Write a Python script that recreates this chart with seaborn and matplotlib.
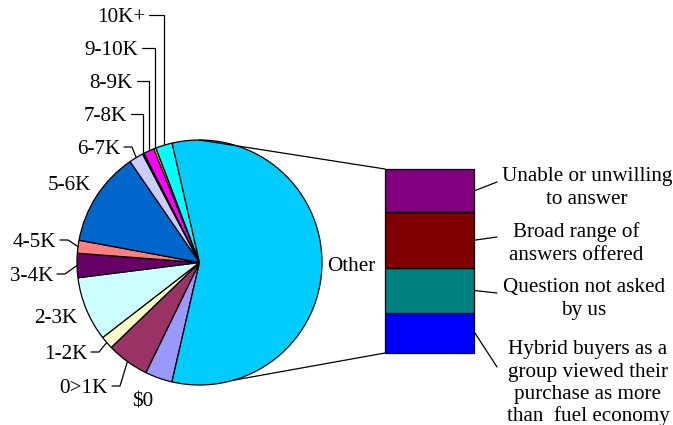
import matplotlib
matplotlib.use("Agg")
import matplotlib.pyplot as plt
import seaborn as sns
import numpy as np

# ---------------- data ----------------
pie_labels = ["$0", "0>1K", "1-2K", "2-3K", "3-4K", "4-5K", "5-6K",
              "6-7K", "7-8K", "8-9K", "9-10K", "10K+"]
pie_values = [3.6, 5.6, 1.7, 8.5, 3.2, 1.7, 12.5, 1.9, 0.2, 1.4, 0.3, 2.2]
pie_colors = ["#9999FF", "#993366", "#FFFFCC", "#CCFFFF", "#660066", "#FF8080",
              "#0066CC", "#CCCCFF", "#000080", "#FF00FF", "#FFFF00", "#00FFFF"]
other_label = "Other"
other_color = "#00CCFF"

bar_labels = ["Hybrid buyers as a\ngroup viewed their\npurchase as more\nthan  fuel economy",
              "Question not asked\nby us",
              "Broad range of\nanswers offered",
              "Unable or unwilling\nto answer"]
bar_values = [12.4, 14.0, 17.4, 13.4]
bar_colors = ["#0000FF", "#008080", "#800000", "#800080"]

# ---------------- layout ----------------
W, H = 673, 425
sns.set_theme(style="white")
plt.rcParams["font.family"] = ["Liberation Serif", "DejaVu Serif"]
plt.rcParams["text.color"] = "black"
FS = 15.2
LW = 0.9

fig = plt.figure(figsize=(W / 100, H / 100), dpi=100)
ax = fig.add_axes([0, 0, 1, 1])


def P(x, y):
    return x, H - y


other_value = sum(bar_values)
values = pie_values + [other_value]
colors = pie_colors + [other_color]
cx, cy = P(199.5, 262.5)
R = 122.5
wedges, _ = ax.pie(values, colors=colors, startangle=257, counterclock=False,
                   center=(cx, cy), radius=R, frame=False,
                   wedgeprops=dict(edgecolor="black", linewidth=LW))
ax.set_xlim(0, W)
ax.set_ylim(0, H)
ax.set_aspect("equal")
ax.axis("off")


def edge_point(theta_deg, r=R):
    t = np.deg2rad(theta_deg)
    return cx + r * np.cos(t), cy + r * np.sin(t)


# label layout: right x (pixels), baseline y (pixels from top), leader style
label_layout = {
    "10K+": (145, 22, "vert"), "9-10K": (138, 55, "vert"),
    "8-9K": (133, 88, "vert"), "7-8K": (127, 121, "vert"),
    "6-7K": (120, 154, "elbow"), "5-6K": (91, 190, None),
    "4-5K": (56, 247, "elbow"), "3-4K": (53, 281, "elbow"),
    "2-3K": (77, 323, None), "1-2K": (87, 359, "elbow"),
    "0>1K": (108, 393, "elbow"), "$0": (153, 407, None),
}
for w, lab in zip(wedges, pie_labels):
    rx, by, style = label_layout[lab]
    x, y = P(rx, by)
    ax.text(x, y, lab, ha="right", va="baseline", fontsize=FS, color="black")
    mid = 0.5 * (w.theta1 + w.theta2)
    wx, wy = edge_point(mid)
    ym = y + 7
    if style == "vert":
        ax.plot([rx + 4, wx, wx], [ym, ym, wy], color="black", lw=LW)
    elif style == "elbow":
        ax.plot([rx + 4, rx + 12, wx], [ym, ym, wy], color="black", lw=LW)

ox, oy = P(327, 271)
ax.text(ox, oy, other_label, ha="left", va="baseline", fontsize=FS, color="black")

# ---------------- stacked bar ----------------
bx0, bx1, by_top, by_bot = 385, 474, 169, 353
bax = fig.add_axes([bx0 / W, (H - by_bot) / H, (bx1 - bx0) / W, (by_bot - by_top) / H])
bottom = 0.0
for v, c in zip(bar_values, bar_colors):
    sns.barplot(x=[0], y=[v], bottom=bottom, color=c, width=1, saturation=1,
                edgecolor="black", linewidth=LW, errorbar=None, ax=bax)
    bottom += v
for p in bax.patches:
    p.set_clip_on(False)
bax.set_xlim(-0.5, 0.5)
bax.set_ylim(0, other_value)
bax.axis("off")

# connectors pie -> bar
tx, ty = edge_point(90)
ax.plot([tx, bx0], [ty, H - by_top], color="black", lw=LW)
bx, byy = edge_point(-74)
ax.plot([bx, bx0], [byy, H - by_bot], color="black", lw=LW)

# bar labels
text_layout = [  # center x, first baseline, leader end (x, y)
    (588, 354, (497, 367)),
    (584, 292, (497, 293)),
    (576, 237, (497, 237)),
    (587, 181, (497, 182)),
]
scale = (by_bot - by_top) / other_value
cum = 0.0
for lab, v, (tcx, b0, (lx, ly)) in zip(bar_labels, bar_values, text_layout):
    for i, line in enumerate(lab.split("\n")):
        x, y = P(tcx, b0 + i * 22.5)
        ax.text(x, y, line, ha="center", va="baseline", fontsize=FS, color="black")
    mid_px = by_bot - (cum + v / 2) * scale
    cum += v
    ax.plot([bx1 + 1, lx], [H - mid_px, H - ly], color="black", lw=LW)

fig.savefig("out.png", dpi=100)
